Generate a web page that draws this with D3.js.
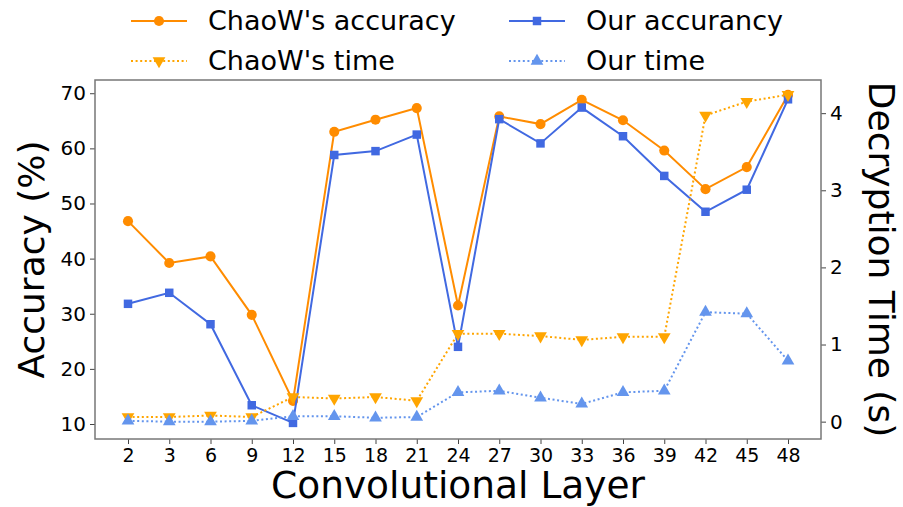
<!DOCTYPE html>
<html>
<head>
    <meta charset="utf-8">
    <title>Accuracy and Decryption Time</title>
    <script src="https://cdn.jsdelivr.net/npm/d3@7/dist/d3.min.js"></script>
    <style>
        body { margin: 0; background: #fff; }
        text { font-family: "DejaVu Sans", sans-serif; fill: #000; }
    </style>
</head>
<body>
    <svg width="903" height="507" id="mainsvg"></svg>
    <script>
        const layers = ['2', '3', '6', '9', '12', '15', '18', '21', '24', '27', '30', '33', '36', '39', '42', '45', '48'];
        const chaowAcc = [46.8, 39.2, 40.4, 29.8, 14.2, 63.0, 65.2, 67.3, 31.5, 65.8, 64.4, 68.8, 65.1, 59.6, 52.6, 56.6, 69.7];
        const ourAcc = [31.8, 33.8, 28.1, 13.4, 10.2, 58.8, 59.5, 62.5, 24.0, 65.3, 60.9, 67.4, 62.2, 55.0, 48.5, 52.5, 68.9];
        const chaowTime = [0.06, 0.06, 0.08, 0.06, 0.32, 0.30, 0.32, 0.27, 1.14, 1.14, 1.11, 1.06, 1.10, 1.10, 3.97, 4.15, 4.24];
        const ourTime = [0.01, 0.0, 0.0, 0.01, 0.07, 0.07, 0.05, 0.06, 0.38, 0.40, 0.31, 0.23, 0.38, 0.40, 1.42, 1.40, 0.79];
        const accTicks = [10, 20, 30, 40, 50, 60, 70];
        const timeTicks = [0, 1, 2, 3, 4];

        const svg = d3.select('svg');
        const plotL = 95, plotR = 821, plotT = 80, plotB = 439;

        const x = d3.scalePoint().domain(layers).range([plotL, plotR]).padding(0.8);
        const yAcc = d3.scaleLinear().domain([7.28, 72.4]).range([plotB, plotT]);
        const yTime = d3.scaleLinear().domain([-0.225, 4.43]).range([plotB, plotT]);

        // axes
        const gx = svg.append('g').attr('transform', `translate(0,${plotB})`)
            .call(d3.axisBottom(x).tickSize(5).tickPadding(5));
        const gl = svg.append('g').attr('transform', `translate(${plotL},0)`)
            .call(d3.axisLeft(yAcc).tickValues(accTicks).tickSize(5).tickPadding(4));
        const gr = svg.append('g').attr('transform', `translate(${plotR},0)`)
            .call(d3.axisRight(yTime).tickValues(timeTicks).tickFormat(d3.format('d')).tickSize(5).tickPadding(4));
        [gx, gl, gr].forEach(g => {
            g.selectAll('.domain').remove();
            g.selectAll('.tick line').attr('stroke', '#444');
            g.selectAll('.tick text').attr('font-size', 20).style('font-family', '"DejaVu Sans", sans-serif');
        });
        gx.selectAll('.tick text').attr('font-size', 19);

        svg.append('rect')
            .attr('x', plotL).attr('y', plotT)
            .attr('width', plotR - plotL).attr('height', plotB - plotT)
            .attr('fill', 'none').attr('stroke', '#777').attr('stroke-width', 1.5);

        const series = [
            { name: "ChaoW's accuracy", values: chaowAcc, y: yAcc, color: '#ff8c00', dash: null, marker: 'circle' },
            { name: 'Our accurancy', values: ourAcc, y: yAcc, color: '#4169e1', dash: null, marker: 'square' },
            { name: "ChaoW's time", values: chaowTime, y: yTime, color: '#ffa500', dash: '2,2.6', marker: 'down' },
            { name: 'Our time', values: ourTime, y: yTime, color: '#6495ed', dash: '2,2.6', marker: 'up' }
        ];

        const symbols = {
            circle: d3.symbol().type(d3.symbolCircle).size(80),
            square: d3.symbol().type(d3.symbolSquare).size(72),
            up: d3.symbol().type(d3.symbolTriangle).size(70),
            down: d3.symbol().type(d3.symbolTriangle).size(70)
        };

        series.forEach(s => {
            const line = d3.line().x((d, i) => x(layers[i])).y(d => s.y(d));
            svg.append('path').datum(s.values)
                .attr('d', line)
                .attr('fill', 'none')
                .attr('stroke', s.color)
                .attr('stroke-width', 2)
                .attr('stroke-dasharray', s.dash);
            svg.append('g').selectAll('path').data(s.values).join('path')
                .attr('d', symbols[s.marker])
                .attr('transform', (d, i) => `translate(${x(layers[i])},${s.y(d)})` + (s.marker === 'down' ? ' rotate(180)' : ''))
                .attr('fill', s.color);
        });

        // axis labels
        svg.append('text')
            .attr('transform', `translate(44,${(plotT + plotB) / 2}) rotate(-90)`)
            .attr('text-anchor', 'middle').attr('font-size', 36)
            .text('Accuracy (%)');
        svg.append('text')
            .attr('transform', `translate(869,${(plotT + plotB) / 2}) rotate(90)`)
            .attr('text-anchor', 'middle').attr('font-size', 36)
            .text('Decryption Time (s)');
        svg.append('text')
            .attr('x', (plotL + plotR) / 2).attr('y', 498)
            .attr('text-anchor', 'middle').attr('font-size', 37.5)
            .text('Convolutional Layer');

        // legend, two columns
        const legendPos = [[131, 21], [509, 21], [131, 61], [509, 61]];
        const legendOrder = [0, 1, 2, 3];
        const legend = svg.append('g').selectAll('g').data(legendOrder).join('g')
            .attr('transform', (d, i) => `translate(${legendPos[i][0]},${legendPos[i][1]})`);
        legend.append('line')
            .attr('x1', 0).attr('x2', 56).attr('y1', 0).attr('y2', 0)
            .attr('stroke', d => series[d].color).attr('stroke-width', 2)
            .attr('stroke-dasharray', d => series[d].dash);
        legend.append('path')
            .attr('d', d => symbols[series[d].marker]())
            .attr('transform', d => 'translate(28,0)' + (series[d].marker === 'down' ? ' rotate(180)' : ''))
            .attr('fill', d => series[d].color);
        legend.append('text')
            .attr('x', 77).attr('y', 0).attr('dy', '0.35em')
            .attr('font-size', 27)
            .text(d => series[d].name);
    </script>
</body>
</html>
